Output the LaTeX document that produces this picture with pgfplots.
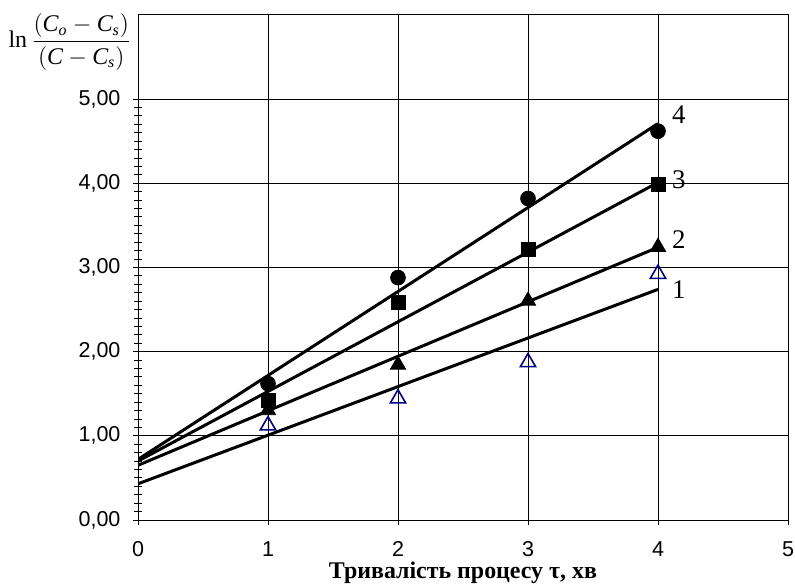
\documentclass[border=0pt]{standalone}
\usepackage{fontspec}
\setmainfont{Liberation Serif}
\setsansfont{Liberation Sans}
\usepackage{amsmath}
\usepackage{pgfplots}
\pgfplotsset{compat=1.18}
\definecolor{navyblue}{RGB}{0,0,128}

\begin{document}
\begin{tikzpicture}
\useasboundingbox (-69bp,-32bp) rectangle (328.5bp,260bp);
\begin{axis}[
  scale only axis,
  width=325bp, height=252.5bp,
  xmin=0, xmax=5, ymin=0, ymax=6,
  xtick={0,1,2,3,4,5},
  ytick={0,1,2,3,4,5},
  minor y tick num=9,
  tick pos=left,
  tick align=center,
  major tick length=4.5bp,
  minor tick length=3.5bp,
  tick style={black, line width=0.5bp},
  grid=major,
  major grid style={black, line width=0.5bp},
  axis line style={black, line width=0.5bp},
  ticklabel style={font=\sffamily\fontsize{10.8}{12}\selectfont},
  xticklabel style={/pgf/number format/assume math mode=true, yshift=-5bp},
  yticklabel style={/pgf/number format/.cd, fixed, fixed zerofill, precision=2, use comma, assume math mode=true,
    /tikz/xshift=-3bp},
  xlabel={\bfseries Тривалість процесу τ, хв},
  xlabel style={font=\fontsize{12}{14}\selectfont, at={(axis description cs:0.5,0)}, anchor=center, yshift=-26.5bp},
  ylabel={$\mathrm{ln}\,\dfrac{(\mathit{C}_{\mathit{o}}-\mathit{C}_{\mathit{s}})}{(\mathit{C}-\mathit{C}_{\mathit{s}})}$},
  ylabel style={font=\fontsize{12}{14}\selectfont, rotate=-90, at={(axis description cs:0,1)}, anchor=center, xshift=-34bp, yshift=-13.5bp},
]
% regression lines
\addplot[black, line width=1.5bp, no marks] coordinates {(0,0.43) (4,2.74)};
\addplot[black, line width=1.5bp, no marks] coordinates {(0,0.65) (4,3.24)};
\addplot[black, line width=1.5bp, no marks] coordinates {(0,0.70) (4,4.01)};
\addplot[black, line width=1.5bp, no marks] coordinates {(0,0.72) (4,4.71)};
% measured points
\addplot[only marks, mark=triangle, mark size=4.4bp, navyblue, mark options={line width=0.8bp, yshift=-1.1bp}]
  coordinates {(1,1.15) (2,1.47) (3,1.90) (4,2.95)};
\addplot[only marks, mark=triangle*, mark size=4.4bp, black, mark options={yshift=-1.1bp}]
  coordinates {(1,1.33) (2,1.87) (3,2.63) (4,3.27)};
\addplot[only marks, mark=square*, mark size=3.5bp, black]
  coordinates {(1,1.42) (2,2.58) (3,3.21) (4,3.99)};
\addplot[only marks, mark=*, mark size=3.7bp, black]
  coordinates {(1,1.62) (2,2.88) (3,3.82) (4,4.62)};
% curve numbers
\node[font=\fontsize{13.5}{15}\selectfont] at (axis cs:4.16,2.74) {1};
\node[font=\fontsize{13.5}{15}\selectfont] at (axis cs:4.16,3.33) {2};
\node[font=\fontsize{13.5}{15}\selectfont] at (axis cs:4.16,4.04) {3};
\node[font=\fontsize{13.5}{15}\selectfont] at (axis cs:4.16,4.82) {4};
\end{axis}
\end{tikzpicture}
\end{document}
